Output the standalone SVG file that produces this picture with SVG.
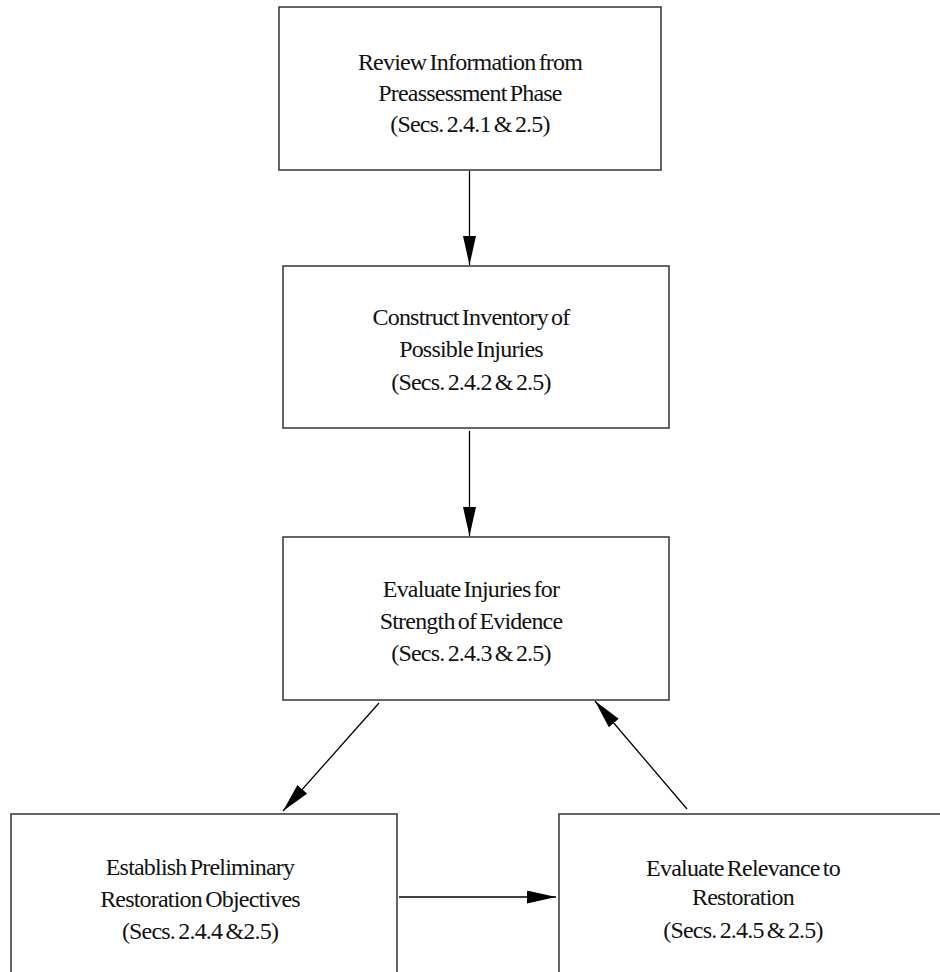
<svg xmlns="http://www.w3.org/2000/svg" width="940" height="972" viewBox="0 0 940 972">
<defs>
<marker id="ah" markerUnits="userSpaceOnUse" markerWidth="30" markerHeight="14" refX="29" refY="6.5" orient="auto">
<path d="M0,0 L29,6.5 L0,13 Z" fill="#000"/>
</marker>
<style>
.box{fill:#fff;stroke:#333;stroke-width:1.5}
.lbl{font-family:"Liberation Serif","Times New Roman",serif;font-size:24px;letter-spacing:-0.8px;word-spacing:-2px;fill:#111;text-anchor:middle}
.con{stroke:#000;stroke-width:1.3;fill:none;marker-end:url(#ah)}
</style>
</defs>
<rect width="940" height="972" fill="#fff"/>
<g id="n1">
<rect class="box" x="279" y="7" width="382" height="163"/>
<text class="lbl" x="470" y="70">Review Information from</text>
<text class="lbl" x="470" y="101">Preassessment Phase</text>
<text class="lbl" x="470" y="132">(Secs. 2.4.1 &amp; 2.5)</text>
</g>
<g id="n2">
<rect class="box" x="283" y="266" width="386" height="162"/>
<text class="lbl" x="471" y="325">Construct Inventory of</text>
<text class="lbl" x="471" y="357">Possible Injuries</text>
<text class="lbl" x="471" y="390">(Secs. 2.4.2 &amp; 2.5)</text>
</g>
<g id="n3">
<rect class="box" x="283" y="537" width="386" height="163"/>
<text class="lbl" x="471" y="597">Evaluate Injuries for</text>
<text class="lbl" x="471" y="629">Strength of Evidence</text>
<text class="lbl" x="471" y="661">(Secs. 2.4.3 &amp; 2.5)</text>
</g>
<g id="n4">
<rect class="box" x="11" y="814" width="386" height="180"/>
<text class="lbl" x="200" y="875">Establish Preliminary</text>
<text class="lbl" x="200" y="907">Restoration Objectives</text>
<text class="lbl" x="200" y="939">(Secs. 2.4.4 &amp;2.5)</text>
</g>
<g id="n5">
<rect class="box" x="559" y="814" width="400" height="180"/>
<text class="lbl" x="743" y="876">Evaluate Relevance to</text>
<text class="lbl" x="743" y="905">Restoration</text>
<text class="lbl" x="743" y="938">(Secs. 2.4.5 &amp; 2.5)</text>
</g>
<g id="connectors">
<line class="con" x1="469.5" y1="171" x2="469.5" y2="265"/>
<line class="con" x1="469.5" y1="431" x2="469.5" y2="536"/>
<line class="con" x1="379" y1="703" x2="283" y2="811"/>
<line class="con" x1="399" y1="897" x2="556" y2="897"/>
<line class="con" x1="687" y1="809" x2="595" y2="701"/>
</g>
</svg>
